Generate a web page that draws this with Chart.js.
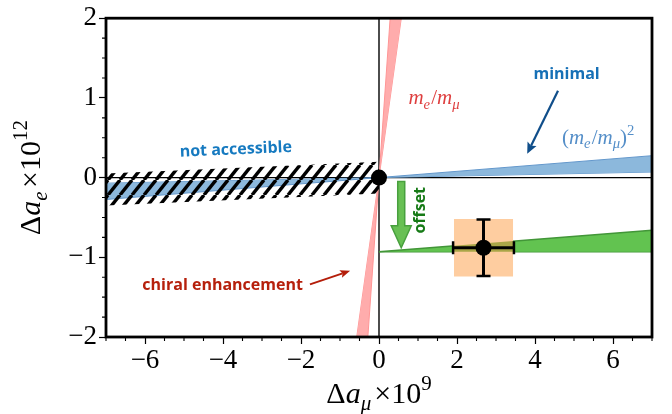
<!DOCTYPE html>
<html lang="en">
<head>
    <meta charset="UTF-8">
    <title>Delta a_e vs Delta a_mu</title>
    <script src="https://cdn.jsdelivr.net/npm/chart.js"></script>
    <style>
        body { margin: 0; background: #fff; }
        #wrap { width: 672px; height: 414px; }
    </style>
</head>
<body>
    <div id="wrap"><canvas id="chart" width="672" height="414"></canvas></div>

    <script>
        // axis ticks
        const xTicks = [-6, -4, -2, 0, 2, 4, 6];
        const xMinor = [-7, -6.5, -5.5, -5, -4.5, -3.5, -3, -2.5, -1.5, -1, -0.5, 0.5, 1, 1.5, 2.5, 3, 3.5, 4.5, 5, 5.5, 6.5, 7];
        const yTicks = [-2, -1, 0, 1, 2];
        const yMinor = [-1.75, -1.5, -1.25, -0.75, -0.5, -0.25, 0.25, 0.5, 0.75, 1.25, 1.5, 1.75];

        // m_e/m_mu band (red), two edges through the origin
        const redX = [-0.6, 0.6];
        const redSteep = [-4.2, 4.2];
        const redShallow = [-2.1, 2.1];

        // (m_e/m_mu)^2 band (blue)
        const blueX = [-7, 7];
        const blueSteep = [-0.275, 0.275];
        const blueShallow = [-0.07, 0.07];

        // not accessible (hatched)
        const hatchX = [-7, 0];
        const hatchTop = [0.05, 0.2];
        const hatchBottom = [-0.35, -0.2];

        // offset band (green)
        const greenX = [0, 7];
        const greenTop = [-0.93, -0.66];
        const greenBottom = [-0.93, -0.93];

        // measurement box + point
        const boxX = [1.92, 3.44];
        const boxTop = [-0.52, -0.52];
        const boxBottom = [-1.24, -1.24];
        const overlapTop = [-0.856, -0.797];
        const overlapBottom = [-0.93, -0.93];
        const measX = [2.68];
        const measY = [-0.88];
        const measXErr = [0.78];
        const measYErr = [0.355];

        const dotX = [0, measX[0]];
        const dotY = [0, measY[0]];

        const pts = (xs, ys) => xs.map((x, i) => ({ x: x, y: ys[i] }));
        const fmt = v => v < 0 ? '\u2212' + Math.abs(v) : String(v);

        const canvas = document.getElementById('chart');
        const ctx0 = canvas.getContext('2d');

        // hatch pattern
        const tile = document.createElement('canvas');
        tile.width = 12; tile.height = 15;
        const tc = tile.getContext('2d');
        tc.strokeStyle = '#000';
        tc.lineWidth = 3.4;
        for (let k = -1; k <= 1; k++) {
            tc.beginPath();
            tc.moveTo(k * 12, 15);
            tc.lineTo(k * 12 + 12, 0);
            tc.stroke();
        }
        const hatch = ctx0.createPattern(tile, 'repeat');

        function band(xs, top, bottom, fillColor, edgeColor, edgeWidth, order) {
            return [
                { data: pts(xs, top), fill: '+1', backgroundColor: fillColor, borderColor: edgeColor, borderWidth: edgeWidth, order: order },
                { data: pts(xs, bottom), fill: false, borderColor: edgeColor, borderWidth: edgeWidth, order: order }
            ];
        }

        const serif = '"Liberation Serif", "DejaVu Serif", serif';
        const sans = '"Open Sans", "DejaVu Sans", sans-serif';

        // small math text renderer (sub/superscripts)
        function drawMath(ctx, parts, cx, baseY, size, color) {
            const items = [];
            let w = 0;
            parts.forEach(p => {
                const s = (p.sub || p.sup) ? size * 0.7 : size;
                const font = (p.it ? 'italic ' : '') + s + 'px ' + serif;
                ctx.font = font;
                const m = ctx.measureText(p.t).width;
                items.push({ p: p, font: font, m: m });
                w += m + (p.gap || 0) * size;
            });
            let x = cx - w / 2;
            ctx.fillStyle = color;
            ctx.textAlign = 'left';
            ctx.textBaseline = 'alphabetic';
            items.forEach(it => {
                const dy = it.p.sub ? 0.22 * size : (it.p.sup ? -0.42 * size : 0);
                ctx.font = it.font;
                ctx.fillText(it.p.t, x, baseY + dy);
                x += it.m + (it.p.gap || 0) * size;
            });
        }

        function arrow(ctx, x1, y1, x2, y2, color, lw, hl, hw) {
            const a = Math.atan2(y2 - y1, x2 - x1);
            ctx.save();
            ctx.strokeStyle = color;
            ctx.fillStyle = color;
            ctx.lineWidth = lw;
            ctx.beginPath();
            ctx.moveTo(x1, y1);
            ctx.lineTo(x2 - Math.cos(a) * hl * 0.8, y2 - Math.sin(a) * hl * 0.8);
            ctx.stroke();
            ctx.translate(x2, y2);
            ctx.rotate(a);
            ctx.beginPath();
            ctx.moveTo(0, 0);
            ctx.lineTo(-hl, hw / 2);
            ctx.lineTo(-hl * 0.8, 0);
            ctx.lineTo(-hl, -hw / 2);
            ctx.closePath();
            ctx.fill();
            ctx.restore();
        }

        const extras = {
            id: 'extras',
            afterDatasetsDraw(chart) {
                const ctx = chart.ctx;
                const xs = chart.scales.x, ys = chart.scales.y;
                const a = chart.chartArea;
                const px = v => xs.getPixelForValue(v);
                const py = v => ys.getPixelForValue(v);

                ctx.save();
                // frame
                ctx.strokeStyle = '#000';
                ctx.lineWidth = 2.8;
                ctx.strokeRect(a.left, a.top, a.right - a.left, a.bottom - a.top);

                // minor ticks
                ctx.lineWidth = 1.1;
                ctx.beginPath();
                xMinor.forEach(v => { ctx.moveTo(px(v), a.bottom); ctx.lineTo(px(v), a.bottom + 4); });
                yMinor.forEach(v => { ctx.moveTo(a.left - 4, py(v)); ctx.lineTo(a.left, py(v)); });
                ctx.stroke();

                // offset arrow
                const ox = px(0.57), oy1 = py(-0.05), oy2 = py(-0.88);
                ctx.beginPath();
                ctx.moveTo(ox - 3.5, oy1);
                ctx.lineTo(ox + 3.5, oy1);
                ctx.lineTo(ox + 3.5, oy2 - 22);
                ctx.lineTo(ox + 10, oy2 - 22);
                ctx.lineTo(ox, oy2);
                ctx.lineTo(ox - 10, oy2 - 22);
                ctx.lineTo(ox - 3.5, oy2 - 22);
                ctx.closePath();
                ctx.fillStyle = 'rgb(104,192,84)';
                ctx.fill();
                ctx.strokeStyle = 'rgb(72,160,62)';
                ctx.lineWidth = 1.5;
                ctx.stroke();

                // annotation arrows
                arrow(ctx, px(4.59), py(1.09), px(3.80), py(0.30), 'rgb(16,78,138)', 2.2, 11, 10);
                arrow(ctx, px(-1.77), py(-1.34), px(-0.74), py(-1.17), 'rgb(180,30,10)', 2, 10, 8);

                // bold labels
                ctx.font = 'bold 16px ' + sans;
                ctx.textAlign = 'center';
                ctx.textBaseline = 'middle';
                ctx.save();
                ctx.translate(px(-3.67), py(0.35));
                ctx.rotate(-2.5 * Math.PI / 180);
                ctx.fillStyle = 'rgb(22,122,192)';
                ctx.fillText('not accessible', 0, 0);
                ctx.restore();

                ctx.fillStyle = 'rgb(22,112,182)';
                ctx.fillText('minimal', px(4.81), py(1.29));

                ctx.fillStyle = 'rgb(182,32,12)';
                ctx.fillText('chiral enhancement', px(-4.01), py(-1.35));

                ctx.save();
                ctx.translate(px(1.07), py(-0.41));
                ctx.rotate(-Math.PI / 2);
                ctx.fillStyle = 'rgb(22,122,22)';
                ctx.fillText('offset', 0, 0);
                ctx.restore();

                // math labels
                drawMath(ctx, [
                    { t: 'm', it: true }, { t: 'e', it: true, sub: true, gap: 0.05 }, { t: '/' },
                    { t: 'm', it: true }, { t: '\u03bc', it: true, sub: true }
                ], px(1.41), py(1.0) + 6, 21, 'rgb(222,62,62)');

                drawMath(ctx, [
                    { t: '(' }, { t: 'm', it: true }, { t: 'e', it: true, sub: true, gap: 0.05 }, { t: '/' },
                    { t: 'm', it: true }, { t: '\u03bc', it: true, sub: true }, { t: ')' }, { t: '2', sup: true }
                ], px(5.62), py(0.5) + 6, 21, 'rgb(84,142,200)');

                // axis titles
                drawMath(ctx, [
                    { t: '\u0394' }, { t: 'a', it: true }, { t: '\u03bc', it: true, sub: true, gap: 0.1 },
                    { t: '\u00d710' }, { t: '9', sup: true }
                ], (a.left + a.right) / 2, 403, 30, '#000');

                ctx.save();
                ctx.translate(40, (a.top + a.bottom) / 2);
                ctx.rotate(-Math.PI / 2);
                drawMath(ctx, [
                    { t: '\u0394' }, { t: 'a', it: true }, { t: 'e', it: true, sub: true, gap: 0.12 },
                    { t: '\u00d710' }, { t: '12', sup: true }
                ], 0, 0, 30, '#000');
                ctx.restore();

                ctx.restore();
            }
        };

        const datasets = [
            { data: pts(dotX, dotY), showLine: false, pointRadius: 8, pointBackgroundColor: '#000', pointBorderWidth: 0, order: 0 },
            { data: [{ x: measX[0] - measXErr[0], y: measY[0] }, { x: measX[0] + measXErr[0], y: measY[0] }],
              borderColor: '#000', borderWidth: 3, pointStyle: 'line', pointRadius: 6.5, pointRotation: 90,
              pointBorderColor: '#000', pointBorderWidth: 2.5, order: 1 },
            { data: [{ x: measX[0], y: measY[0] + measYErr[0] }, { x: measX[0], y: measY[0] - measYErr[0] }],
              borderColor: '#000', borderWidth: 3, pointStyle: 'line', pointRadius: 7, pointRotation: 0,
              pointBorderColor: '#000', pointBorderWidth: 2.5, order: 1 },
            ...band(boxX, overlapTop, overlapBottom, 'rgb(170,166,72)', 'rgba(0,0,0,0)', 0, 2),
            ...band(boxX, boxTop, boxBottom, 'rgb(254,205,160)', 'rgba(0,0,0,0)', 0, 3),
            ...band(greenX, greenTop, greenBottom, 'rgb(98,195,80)', 'rgb(66,150,56)', 1.5, 4),
            ...band(hatchX, hatchTop, hatchBottom, hatch, 'rgba(0,0,0,0)', 0, 5),
            ...band(blueX, blueSteep, blueShallow, 'rgb(140,184,220)', 'rgb(100,152,204)', 1, 6),
            ...band(redX, redSteep, redShallow, 'rgb(255,172,172)', 'rgb(255,150,150)', 1, 7),
            { data: [{ x: -7, y: 0 }, { x: 7, y: 0 }], borderColor: '#000', borderWidth: 1.4, order: 8 },
            { data: [{ x: 0, y: -2 }, { x: 0, y: 2 }], borderColor: '#000', borderWidth: 1.4, order: 8 }
        ];

        new Chart(ctx0, {
            type: 'line',
            data: { datasets: datasets },
            options: {
                responsive: false,
                animation: false,
                events: [],
                layout: { padding: { top: 17, right: 20, left: 0, bottom: 0 } },
                elements: { point: { radius: 0 }, line: { tension: 0 } },
                plugins: { legend: { display: false }, tooltip: { enabled: false } },
                scales: {
                    x: {
                        type: 'linear', min: -7, max: 7,
                        afterBuildTicks: s => { s.ticks = xTicks.map(v => ({ value: v })); },
                        afterFit: s => { s.height = 77; },
                        ticks: { autoSkip: false, maxRotation: 0, padding: 1, color: '#000',
                                 font: { family: serif, size: 27 }, callback: v => fmt(v) },
                        grid: { drawOnChartArea: false, tickLength: 7, tickWidth: 1.2, tickColor: '#000' },
                        border: { display: false }
                    },
                    y: {
                        type: 'linear', min: -2, max: 2,
                        afterBuildTicks: s => { s.ticks = yTicks.map(v => ({ value: v })); },
                        afterFit: s => { s.width = 106; },
                        ticks: { autoSkip: false, padding: 2, color: '#000',
                                 font: { family: serif, size: 27 }, callback: v => fmt(v) },
                        grid: { drawOnChartArea: false, tickLength: 7, tickWidth: 1.2, tickColor: '#000' },
                        border: { display: false }
                    }
                }
            },
            plugins: [extras]
        });
    </script>
</body>
</html>
